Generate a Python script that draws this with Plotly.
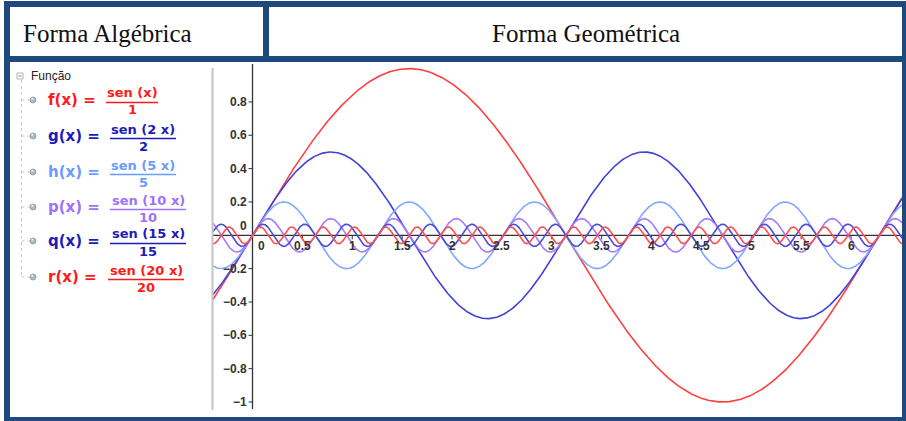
import numpy as np
import plotly.graph_objects as go

# ---- data -------------------------------------------------------------
func_names = ["f", "g", "h", "p", "q", "r"]
frequencies = [1, 2, 5, 10, 15, 20]          # sen(k x)
divisors = [1, 2, 5, 10, 15, 20]             # ... / k
x_ticks = [0.5, 1, 1.5, 2, 2.5, 3, 3.5, 4, 4.5, 5, 5.5, 6]
x_tick_text = ["0.5", "1", "1.5", "2", "2.5", "3", "3.5", "4", "4.5", "5", "5.5", "6"]
y_ticks = [-1, -0.8, -0.6, -0.4, -0.2, 0.2, 0.4, 0.6, 0.8]
y_tick_text = ["\u22121", "\u22120.8", "\u22120.6", "\u22120.4", "\u22120.2", "0.2", "0.4", "0.6", "0.8"]
header_left = "Forma Algébrica"
header_right = "Forma Geométrica"
tree_title = "Função"

# ---- styles -----------------------------------------------------------
W, H = 906, 421
line_colors = ["#ff3f3f", "#4242d9", "#80a8ff", "#a67bff", "#4c4cd6", "#ff5050"]
text_colors = ["#ff1a1a", "#1c1cb8", "#6a9cff", "#a070ff", "#1c1cb8", "#ff1a1a"]
frame_color = "#1f497d"

# graphics view geometry (pixels)
gx0, gx1 = 213, 902       # plot left / right
gy0, gy1 = 62, 409        # plot top / bottom
ox, oy = 252.5, 235.3     # origin
kx, ky = 99.75, 166.7     # pixels per unit

x_range = [(gx0 - ox) / kx, (gx1 - ox) / kx]
y_range = [-(gy1 - oy) / ky, (oy - gy0) / ky]


def px(x):
    return x / W


def py(y):
    return 1 - y / H


fig = go.Figure()

xs = np.linspace(x_range[0], x_range[1], 3000)
for name, k, d, col in zip(func_names, frequencies, divisors, line_colors):
    fig.add_trace(go.Scatter(
        x=xs, y=np.sin(k * xs) / d, mode="lines", name=name,
        line=dict(color=col, width=1.6), hoverinfo="skip", showlegend=False,
    ))

shapes = []
annotations = []

# axes of the graphics view
shapes.append(dict(type="line", xref="x", yref="y", x0=0, x1=0,
                   y0=y_range[0], y1=(oy - 64) / ky,
                   line=dict(color="#333333", width=1.3), layer="below"))
shapes.append(dict(type="line", xref="x", yref="y", x0=x_range[0], x1=x_range[1],
                   y0=0, y1=0, line=dict(color="#333333", width=1.3), layer="below"))

tick_len_x = 4 / kx
tick_len_y = 4 / ky
for t, s in zip(x_ticks, x_tick_text):
    shapes.append(dict(type="line", xref="x", yref="y", x0=t, x1=t, y0=0, y1=-tick_len_y,
                       line=dict(color="#333333", width=1), layer="below"))
    annotations.append(dict(x=t, y=0, xref="x", yref="y", text="<b>%s</b>" % s,
                            showarrow=False, xanchor="center", yanchor="top", yshift=-2,
                            font=dict(family="Liberation Sans", size=12, color="#333333")))
for t, s in zip(y_ticks, y_tick_text):
    shapes.append(dict(type="line", xref="x", yref="y", x0=0, x1=-tick_len_x, y0=t, y1=t,
                       line=dict(color="#333333", width=1), layer="below"))
    annotations.append(dict(x=0, y=t, xref="x", yref="y", text="<b>%s</b>" % s,
                            showarrow=False, xanchor="right", yanchor="middle", xshift=-4,
                            font=dict(family="Liberation Sans", size=12, color="#333333")))
# origin labels
annotations.append(dict(x=0, y=0, xref="x", yref="y", text="<b>0</b>", showarrow=False,
                        xanchor="left", yanchor="top", xshift=3, yshift=-2,
                        font=dict(family="Liberation Sans", size=12, color="#333333")))
annotations.append(dict(x=0, y=0, xref="x", yref="y", text="<b>0</b>", showarrow=False,
                        xanchor="right", yanchor="bottom", xshift=-4, yshift=0,
                        font=dict(family="Liberation Sans", size=12, color="#333333")))

# ---- algebra view -----------------------------------------------------
# separator between algebra and graphics views
shapes.append(dict(type="line", xref="paper", yref="paper", x0=px(212.5), x1=px(212.5),
                   y0=py(68), y1=py(410), line=dict(color="#c4c4c4", width=2)))

# collapse box and title
shapes.append(dict(type="rect", xref="paper", yref="paper", x0=px(17), x1=px(23),
                   y0=py(73), y1=py(79), line=dict(color="#b0b0b0", width=1), fillcolor="white"))
shapes.append(dict(type="line", xref="paper", yref="paper", x0=px(18.5), x1=px(21.5),
                   y0=py(76), y1=py(76), line=dict(color="#808080", width=1)))
annotations.append(dict(x=px(29), y=py(76), xref="paper", yref="paper", text=tree_title,
                        showarrow=False, xanchor="left", yanchor="middle",
                        font=dict(family="Liberation Sans", size=12, color="#222222")))

row_y = [100, 136, 172, 207, 241, 277]
frac_cx = [132, 143, 143, 148, 148, 146]
frac_w = [52, 66, 66, 76, 76, 76]

# dotted tree connector
shapes.append(dict(type="line", xref="paper", yref="paper", x0=px(21.5), x1=px(21.5),
                   y0=py(80), y1=py(row_y[-1]), line=dict(color="#c8c8c8", width=1, dash="dot")))

for name, k, d, tc, ry, cx, fw in zip(func_names, frequencies, divisors, text_colors,
                                      row_y, frac_cx, frac_w):
    shapes.append(dict(type="line", xref="paper", yref="paper", x0=px(21.5), x1=px(30),
                       y0=py(ry), y1=py(ry), line=dict(color="#c8c8c8", width=1, dash="dot")))
    shapes.append(dict(type="circle", xref="paper", yref="paper", x0=px(30), x1=px(36),
                       y0=py(ry + 3), y1=py(ry - 3), line=dict(color="#7f9aa8", width=0.8),
                       fillcolor="#a9bcc6"))
    shapes.append(dict(type="circle", xref="paper", yref="paper", x0=px(31.2), x1=px(33.4),
                       y0=py(ry - 0.2), y1=py(ry - 2.2), line=dict(width=0),
                       fillcolor="#eef4f7"))
    annotations.append(dict(x=px(46), y=py(ry), xref="paper", yref="paper",
                            text="<b>%s(x) =</b>" % name, showarrow=False,
                            xanchor="left", yanchor="middle",
                            font=dict(family="DejaVu Sans", size=15, color=tc)))
    num = "sen (x)" if k == 1 else "sen (%d x)" % k
    annotations.append(dict(x=px(cx), y=py(ry - 7), xref="paper", yref="paper",
                            text="<b>%s</b>" % num, showarrow=False,
                            xanchor="center", yanchor="middle",
                            font=dict(family="DejaVu Sans", size=13, color=tc)))
    annotations.append(dict(x=px(cx), y=py(ry + 10), xref="paper", yref="paper",
                            text="<b>%d</b>" % d, showarrow=False,
                            xanchor="center", yanchor="middle",
                            font=dict(family="DejaVu Sans", size=13, color=tc)))
    shapes.append(dict(type="line", xref="paper", yref="paper",
                       x0=px(cx - fw / 2), x1=px(cx + fw / 2),
                       y0=py(ry + 2.5), y1=py(ry + 2.5), line=dict(color=tc, width=1.5)))

# ---- table frame ------------------------------------------------------
bands = [
    (4, 906, 1, 7),        # top
    (4, 906, 56, 62),      # under header
    (4, 906, 417, 421),    # bottom
    (4, 10, 1, 421),       # left
    (902, 906, 1, 421),    # right
    (263, 269, 1, 62),     # header divider
]
for x0, x1, y0, y1 in bands:
    shapes.append(dict(type="rect", xref="paper", yref="paper", x0=px(x0), x1=px(x1),
                       y0=py(y1), y1=py(y0), line=dict(width=0), fillcolor=frame_color,
                       layer="above"))

annotations.append(dict(x=px(21), y=py(33), xref="paper", yref="paper", text=header_left,
                        showarrow=False, xanchor="left", yanchor="middle",
                        font=dict(family="Liberation Serif", size=25, color="#111111")))
annotations.append(dict(x=px(585.5), y=py(33), xref="paper", yref="paper", text=header_right,
                        showarrow=False, xanchor="center", yanchor="middle",
                        font=dict(family="Liberation Serif", size=25, color="#111111")))

fig.update_layout(
    width=W, height=H,
    margin=dict(l=0, r=0, t=0, b=0),
    paper_bgcolor="white", plot_bgcolor="white",
    xaxis=dict(domain=[px(gx0), px(gx1)], range=x_range, visible=False, fixedrange=True),
    yaxis=dict(domain=[py(gy1), py(gy0)], range=y_range, visible=False, fixedrange=True),
    shapes=shapes, annotations=annotations,
    showlegend=False,
)

fig.write_html("out.html")
